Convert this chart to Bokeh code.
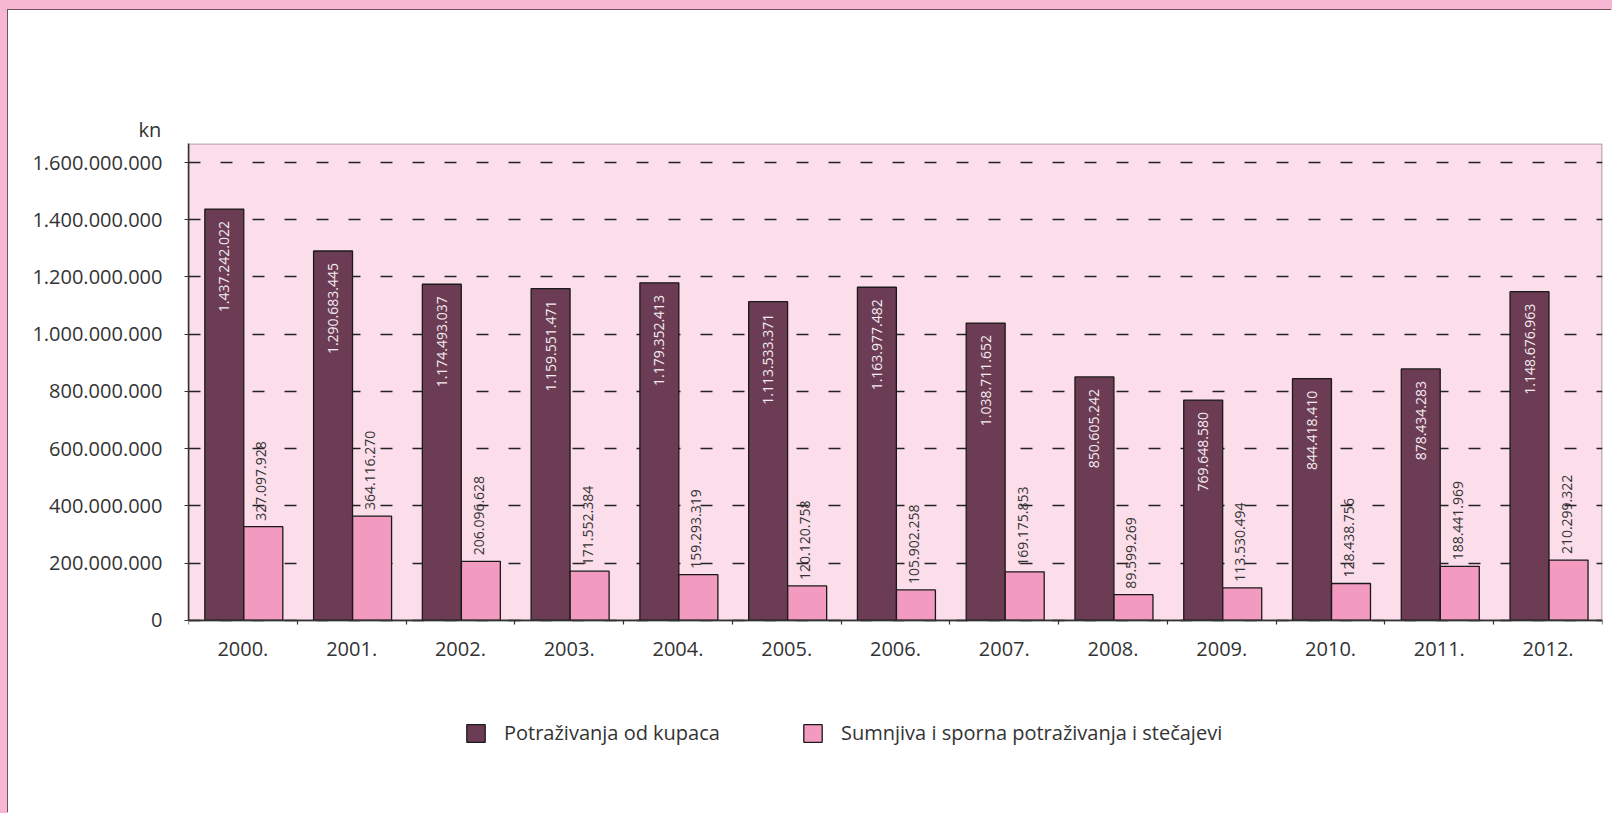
import numpy as np
from bokeh.plotting import figure
from bokeh.models import (Range1d, LinearAxis, FixedTicker, Grid, BoxAnnotation,
                          Legend, LegendItem, ColumnDataSource)
from bokeh.transform import dodge
from bokeh.core.properties import value
from bokeh.embed import file_html
from bokeh.resources import INLINE

# ---------------- data ----------------
years = ["2000.", "2001.", "2002.", "2003.", "2004.", "2005.", "2006.",
         "2007.", "2008.", "2009.", "2010.", "2011.", "2012."]
receivables = [1437242022, 1290683445, 1174493037, 1159551471, 1179352413,
               1113533371, 1163977482, 1038711652, 850605242, 769648580,
               844418410, 878434283, 1148676963]
doubtful = [327097928, 364116270, 206096628, 171552384, 159293319,
            120120758, 105902258, 169175853, 89599269, 113530494,
            128438756, 188441969, 210299322]
series_names = ["Potraživanja od kupaca",
                "Sumnjiva i sporna potraživanja i stečajevi"]
y_ticks = [0, 200000000, 400000000, 600000000, 800000000, 1000000000,
           1200000000, 1400000000, 1600000000]
y_tick_labels = ["0", "200.000.000", "400.000.000", "600.000.000",
                 "800.000.000", "1.000.000.000", "1.200.000.000",
                 "1.400.000.000", "1.600.000.000"]
unit_label = "kn"

# ---------------- style ----------------
DARK = "#6b3c54"
PINK = "#f39ac1"
PLOT_BG = "#fcdeea"
PAGE_PINK = "#f7b6d2"
TXT = "#333333"
FONT = "Open Sans"

Y_TOP = 1.66652e9          # top of the plotting area
Y_BOTTOM = -521.66e6       # room below zero for the legend


def fmt(v):
    return f"{v:,}".replace(",", ".")


n = len(years)
centres = [i + 0.5 for i in range(n)]      # category slot centres
src = ColumnDataSource(dict(
    pos=centres, year=years, rec=receivables, doubt=doubtful,
    rec_lbl=[fmt(v) for v in receivables],
    doubt_lbl=[fmt(v) for v in doubtful],
))

p = figure(frame_width=1414, frame_height=626,
           x_range=Range1d(0, n),
           y_range=Range1d(Y_BOTTOM, Y_TOP),
           output_backend="svg", toolbar_location=None,
           x_axis_location=None, y_axis_location=None,
           min_border_left=180, min_border_right=10,
           min_border_top=133, min_border_bottom=44,
           background_fill_color="white", border_fill_color="white",
           outline_line_color=None)
p.styles = {"box-shadow": "-1px -1px 0 0 #6f5262",
            "background-color": "white"}
p.grid.visible = False     # no default grids

# pink plotting area above zero
p.add_layout(BoxAnnotation(bottom=0, fill_color=PLOT_BG, fill_alpha=1,
                           line_color="#333333", line_width=2.6,
                           level="underlay"))

# unit label "kn" above the y axis
p.title.text = unit_label
p.title.align = "left"
p.title.offset = -50
p.title.standoff = 2
p.title.text_font = FONT
p.title.text_font_size = "20px"
p.title.text_font_style = "normal"
p.title.text_color = TXT

# x axis at zero: labels at category centres, ticks at boundaries
xaxis = LinearAxis(
    fixed_location=0,
    ticker=FixedTicker(ticks=centres, minor_ticks=list(range(n + 1))),
    major_label_overrides={c: y for c, y in zip(centres, years)},
    major_tick_out=0, major_tick_in=0,
    minor_tick_out=4, minor_tick_in=0,
    minor_tick_line_color="#333333", minor_tick_line_width=1.2,
    axis_line_color="#333333", axis_line_width=1.5,
    major_label_standoff=18,
    major_label_text_font=FONT, major_label_text_font_size="20px",
    major_label_text_color=TXT,
)
p.add_layout(xaxis, "below")

yticker = FixedTicker(ticks=y_ticks)
yaxis = LinearAxis(
    ticker=yticker, bounds=(0, Y_TOP),
    major_label_overrides=dict(zip(y_ticks, y_tick_labels)),
    major_tick_out=4, major_tick_in=0,
    minor_tick_out=0, minor_tick_in=0,
    major_tick_line_color="#333333", major_tick_line_width=1.2,
    axis_line_color="#333333", axis_line_width=1.5,
    major_label_standoff=22,
    major_label_text_font=FONT, major_label_text_font_size="20px",
    major_label_text_color=TXT,
)
p.add_layout(yaxis, "left")

p.add_layout(Grid(dimension=1, ticker=yticker, grid_line_color="#222222",
                  grid_line_width=1.3, grid_line_dash="12 20"))

DX1, DX2, BW = -0.171, 0.188, 0.358
r1 = p.vbar(x=dodge("pos", DX1), top="rec", width=BW,
            source=src, fill_color=DARK, line_color="#1a1a1a", line_width=1.3)
r2 = p.vbar(x=dodge("pos", DX2), top="doubt", width=BW,
            source=src, fill_color=PINK, line_color="#1a1a1a", line_width=1.3)

p.text(x=dodge("pos", DX1), y="rec", text="rec_lbl",
       source=src, angle=np.pi / 2, text_align="right",
       text_baseline="middle", y_offset=12,
       text_font=value(FONT), text_font_size="14px",
       text_color="#f4ecf0")
p.text(x=dodge("pos", DX2), y="doubt", text="doubt_lbl",
       source=src, angle=np.pi / 2, text_align="left",
       text_baseline="middle", y_offset=-6, x_offset=-2,
       text_font=value(FONT), text_font_size="14px",
       text_color=TXT)

for r, name, vx in [(r1, series_names[0], 276), (r2, series_names[1], 613)]:
    leg = Legend(items=[LegendItem(label=name, renderers=[r])],
                 location=(vx, 23), orientation="horizontal",
                 glyph_width=23, glyph_height=22, label_standoff=17,
                 padding=0, margin=0, spacing=0,
                 border_line_color=None, background_fill_alpha=0,
                 label_text_font=FONT, label_text_font_size="20px",
                 label_text_color=TXT)
    p.add_layout(leg)

html = file_html(p, INLINE)
html = html.replace(
    "</head>",
    "<style>html,body{background-color:%s;overflow:hidden;}"
    "body{margin:0 !important;padding:10px 0 0 8px !important;}</style></head>"
    % PAGE_PINK, 1)
open("out.html", "w").write(html)
